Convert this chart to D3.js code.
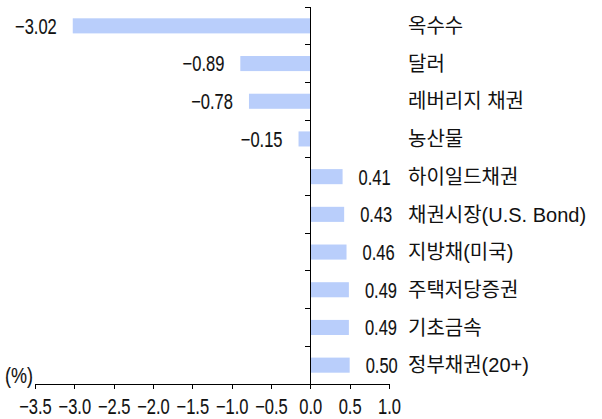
<!DOCTYPE html>
<html lang="ko">
<meta charset='utf-8'>
<style>
  body{ margin:0; background:#fff }
  text{ fill:#111 }
  .num{ font-family:'Liberation Sans', Arial, sans-serif; font-size:22px; stroke:#111; stroke-width:0.12px }
  .cat{ font-family:'Liberation Sans', 'Noto Sans CJK KR', sans-serif; font-size:20px }
  .axis path, .axis line{ stroke:#000; shape-rendering:crispEdges }
</style>
<body>
<script src='https://cdn.jsdelivr.net/npm/d3@7'></script>
<script>

  var categories = ['옥수수', '달러', '레버리지 채권', '농산물', '하이일드채권', '채권시장(U.S. Bond)', '지방채(미국)', '주택저당증권', '기초금속', '정부채권(20+)']
  var values = [-3.02, -0.89, -0.78, -0.15, 0.41, 0.43, 0.46, 0.49, 0.49, 0.50]
  var xTicks = [-3.5, -3.0, -2.5, -2.0, -1.5, -1.0, -0.5, 0.0, 0.5, 1.0]

  var W = 602, H = 419
  var svg = d3.select('body').append('svg').attr('width', W).attr('height', H)

  var x = d3.scaleLinear().domain([-3.5, 1.0]).range([35, 389])
  var y = d3.scaleBand().domain(categories).range([7, 384])
  var barH = y.bandwidth() * 0.4
  var squeeze = 0.75

  // narrow numbers, with a wider minus sign
  function numText(sel, s){
    sel.text(null)
    if (s[0] === '-'){
      sel.append('tspan').attr('letter-spacing', 4).text('\u2212')
      s = s.slice(1)
    }
    sel.append('tspan').text(s)
  }

  // bars
  svg.append('g').selectAll('rect')
    .data(values)
    .enter().append('rect')
    .attr('x', d => x(Math.min(0, d)))
    .attr('y', (d, i) => y(categories[i]) + (y.bandwidth() - barH) / 2)
    .attr('width', d => Math.abs(x(d) - x(0)))
    .attr('height', barH)
    .attr('fill', '#b9cefb')

  // value labels
  svg.append('g').selectAll('text')
    .data(values)
    .enter().append('text').attr('class', 'num')
    .attr('transform', (d, i) => 'translate(' + (d < 0 ? x(d) - 16 : x(d) + 16) + ',' +
      (y(categories[i]) + y.bandwidth() / 2) + ') scale(' + squeeze + ',1)')
    .attr('dy', '0.36em')
    .attr('text-anchor', d => d < 0 ? 'end' : 'start')
    .each(function(d){ numText(d3.select(this), d3.format('.2f')(d)) })

  // category labels
  svg.append('g').selectAll('text')
    .data(categories)
    .enter().append('text').attr('class', 'cat')
    .attr('x', 408)
    .attr('y', d => y(d) + y.bandwidth() / 2)
    .attr('dy', '0.36em')
    .text(d => d)

  // y axis at zero
  var ya = svg.append('g').attr('class', 'axis')
  ya.append('line')
    .attr('x1', x(0)).attr('x2', x(0))
    .attr('y1', y.range()[0]).attr('y2', y.range()[1])
  ya.selectAll('.tk')
    .data(categories)
    .enter().append('line').attr('class', 'tk')
    .attr('x1', x(0) - 5).attr('x2', x(0))
    .attr('y1', d => y(d)).attr('y2', d => y(d))

  // x axis
  var xa = svg.append('g').attr('class', 'axis')
    .attr('transform', 'translate(0,' + y.range()[1] + ')')
    .call(d3.axisBottom(x).tickValues(xTicks).tickSize(5).tickSizeOuter(0).tickPadding(9)
      .tickFormat(d => d3.format('.1f')(d)))
  xa.attr('font-size', null).attr('font-family', null)
  xa.selectAll('text').attr('class', 'num').attr('transform', 'scale(' + squeeze + ',1)')
    .each(function(d){ numText(d3.select(this), d3.format('.1f')(d)) })

  svg.append('text').attr('class', 'num')
    .attr('transform', 'translate(5,383) scale(0.82,1)')
    .text('(%)')
</script>
</body>
</html>
